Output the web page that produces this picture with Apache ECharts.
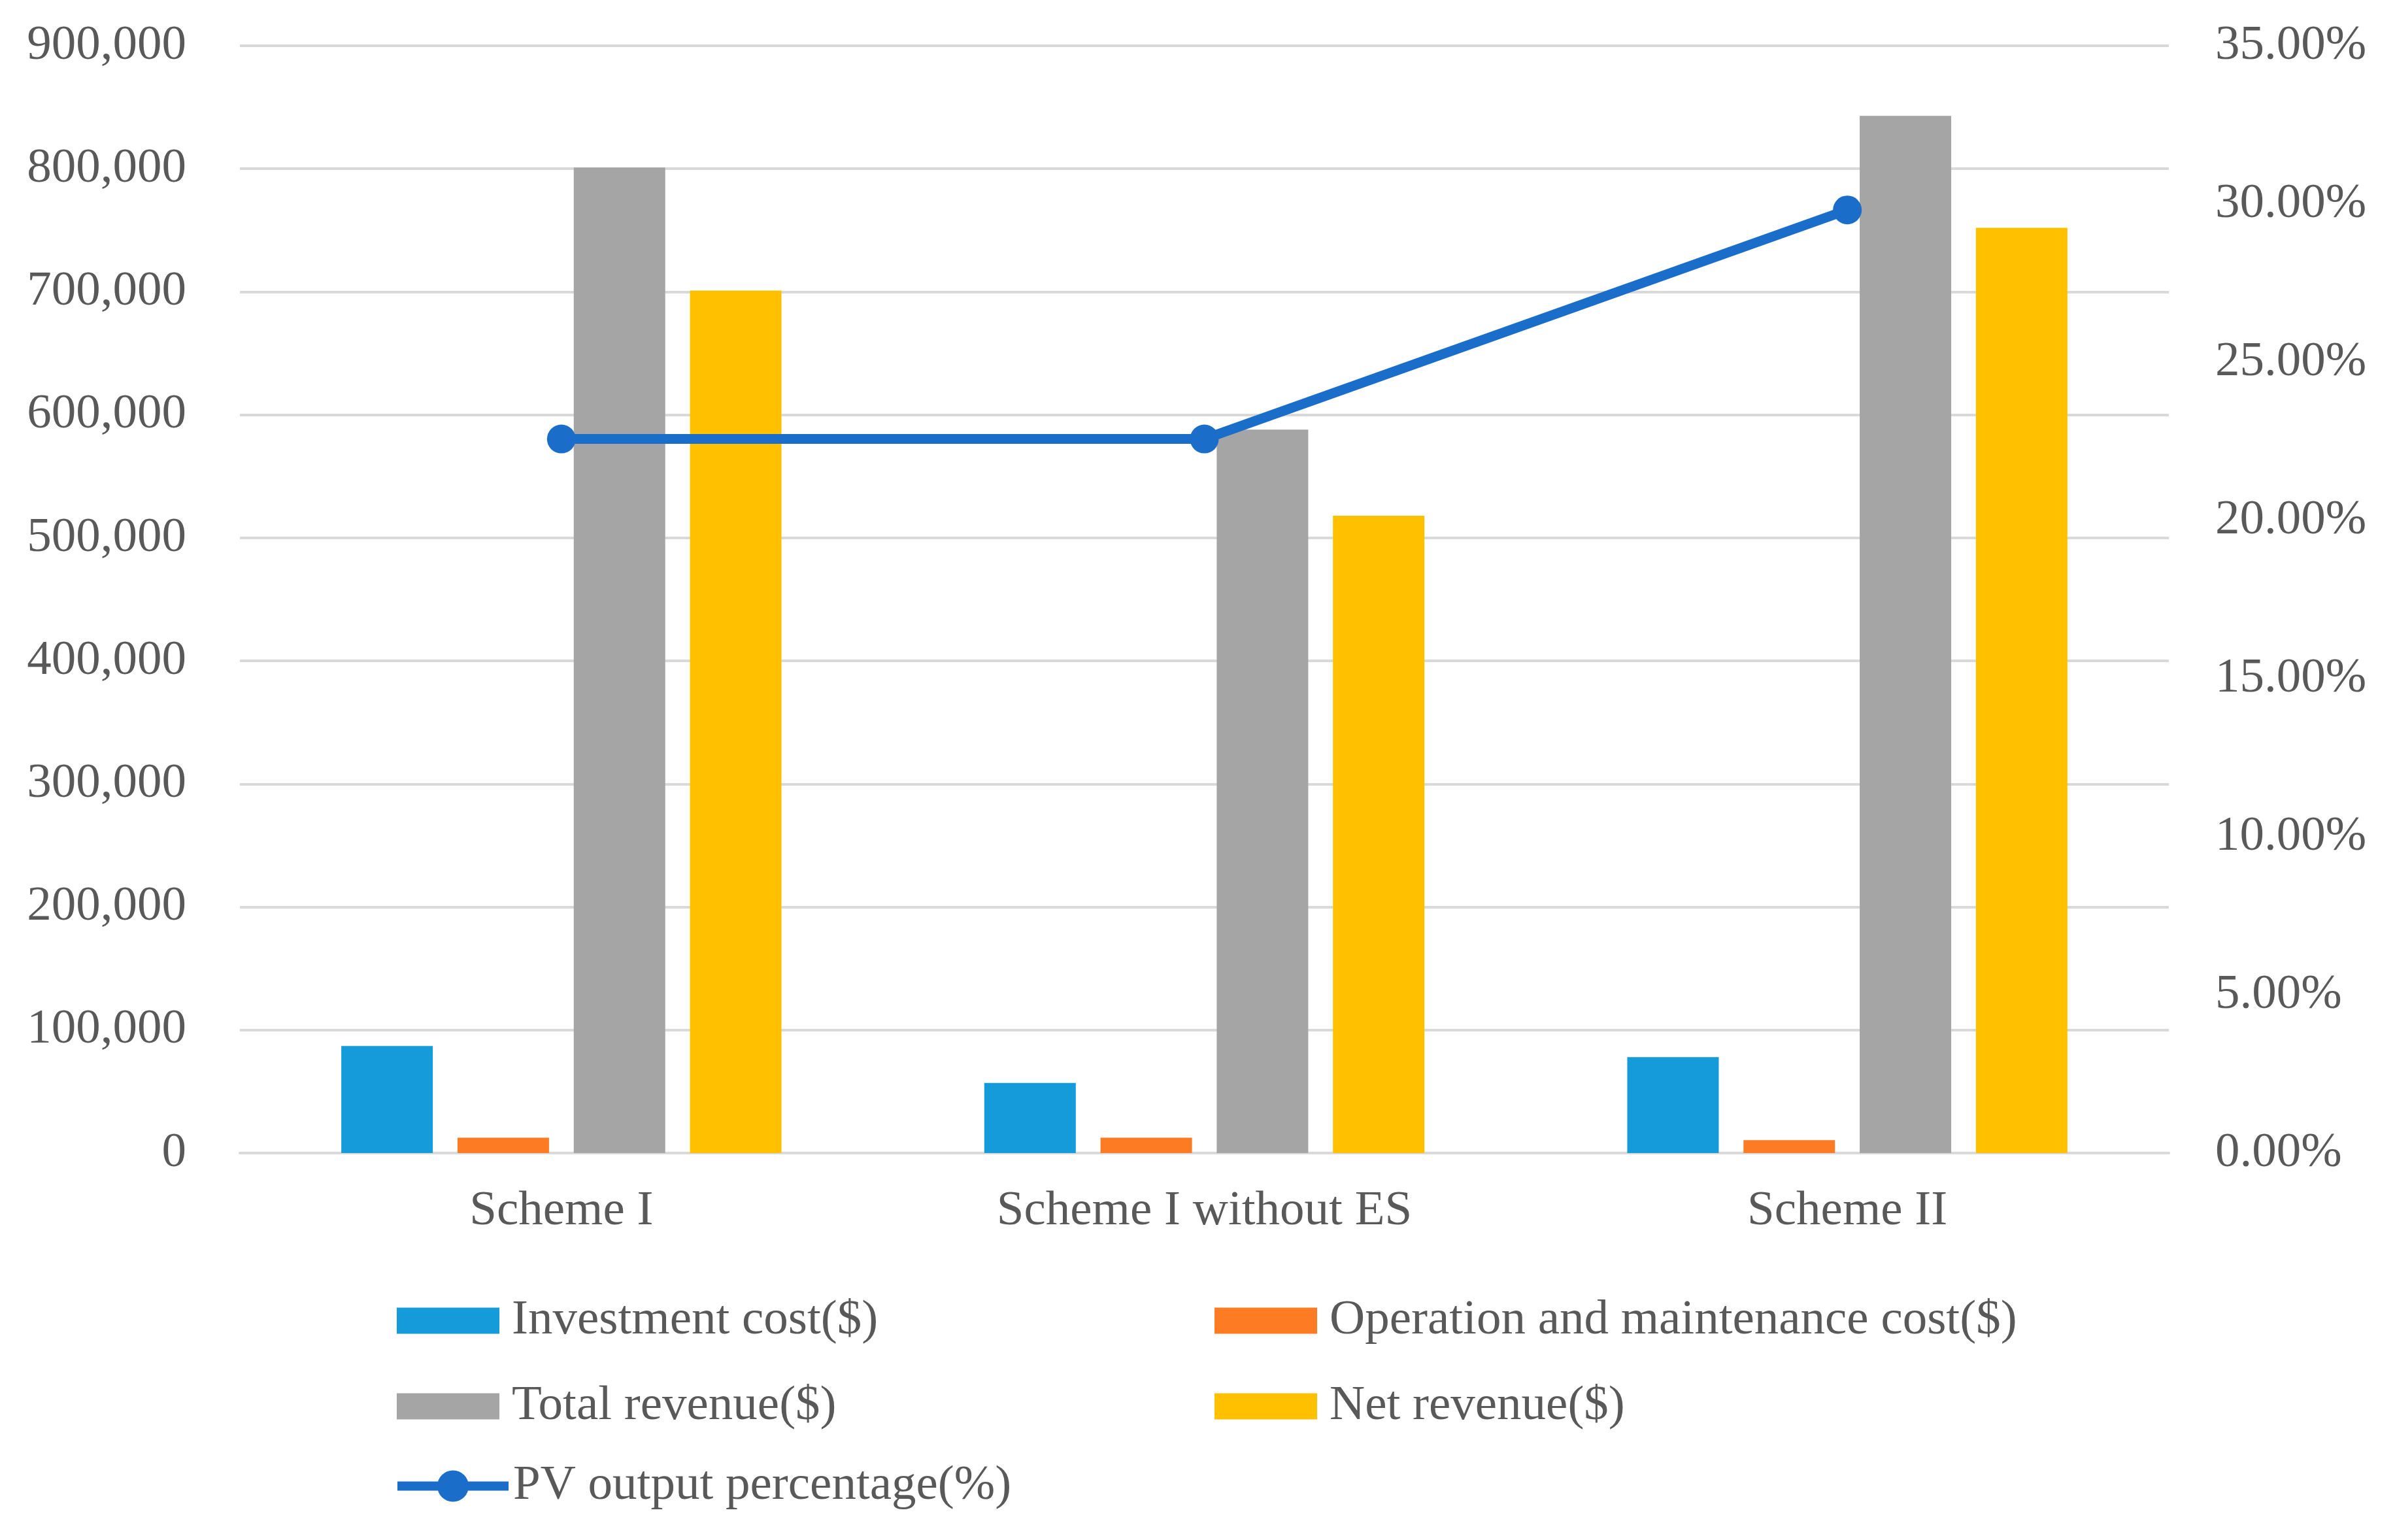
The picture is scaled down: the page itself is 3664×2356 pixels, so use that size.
<!DOCTYPE html>
<html>
<head>
<meta charset="utf-8">
<script src="https://cdn.jsdelivr.net/npm/echarts@6/dist/echarts.min.js"></script>
<style>
html,body{margin:0;padding:0;background:#fff;}
#chart{width:3664px;height:2356px;}
</style>
</head>
<body>
<div id="chart"></div>
<script>
const categories = ['Scheme I', 'Scheme I without ES', 'Scheme II'];
const investmentCost = [87000, 57000, 78000];
const omCost = [12500, 12500, 10500];
const totalRevenue = [801000, 588000, 843000];
const netRevenue = [701000, 518000, 752000];
const pvOutputPct = [22.57, 22.57, 29.81];
const leftTicks = { min: 0, max: 900000, interval: 100000 };
const rightTicks = { min: 0, max: 35, interval: 5 };

const FONT = 'Liberation Serif';
const TXT = '#595959';
const FS = 75;

const chart = echarts.init(document.getElementById('chart'), null, { renderer: 'canvas' });

function legendAt(name, left, top, w, h, extra) {
  return Object.assign({
    data: [name],
    left: left, top: top,
    itemWidth: w, itemHeight: h,
    itemGap: 0,
    icon: 'rect',
    textStyle: { fontFamily: FONT, fontSize: FS, color: TXT, padding: [0, 0, 0, 14] },
    selectedMode: false
  }, extra || {});
}

const option = {
  backgroundColor: '#ffffff',
  animation: false,
  textStyle: { fontFamily: FONT },
  grid: { left: 367, right: 346, top: 70, bottom: 592, containLabel: false },
  legend: [
    legendAt('Investment cost($)', 602, 1978, 157, 40),
    legendAt('Operation and maintenance cost($)', 1853, 1978, 157, 40),
    legendAt('Total revenue($)', 602, 2109, 157, 40),
    legendAt('Net revenue($)', 1853, 2109, 157, 40),
    legendAt('PV output percentage(%)', 596, 2231, 170, 60,
      { icon: null, lineStyle: { width: 14 }, textStyle: { fontFamily: FONT, fontSize: FS, color: TXT, padding: [0, 0, 0, 2] } })
  ],
  xAxis: {
    type: 'category',
    data: categories,
    axisLine: { show: true, lineStyle: { color: '#D9D9D9', width: 4 } },
    axisTick: { show: false },
    axisLabel: { fontFamily: FONT, fontSize: FS, color: TXT, margin: 52 }
  },
  yAxis: [
    {
      type: 'value',
      min: leftTicks.min, max: leftTicks.max, interval: leftTicks.interval,
      axisLine: { show: false },
      axisTick: { show: false },
      splitLine: { show: true, lineStyle: { color: '#D9D9D9', width: 4 } },
      axisLabel: {
        fontFamily: FONT, fontSize: FS, color: TXT, margin: 82,
        formatter: v => v.toLocaleString('en-US')
      }
    },
    {
      type: 'value',
      min: rightTicks.min, max: rightTicks.max, interval: rightTicks.interval,
      position: 'right',
      axisLine: { show: false },
      axisTick: { show: false },
      splitLine: { show: false },
      axisLabel: {
        fontFamily: FONT, fontSize: FS, color: TXT, margin: 71,
        formatter: v => v.toFixed(2) + '%'
      }
    }
  ],
  series: [
    { name: 'Investment cost($)', type: 'bar', data: investmentCost, barWidth: 140, barGap: '27%',
      itemStyle: { color: '#159BD9' } },
    { name: 'Operation and maintenance cost($)', type: 'bar', data: omCost, barWidth: 140, barGap: '27%',
      itemStyle: { color: '#FD7C23' } },
    { name: 'Total revenue($)', type: 'bar', data: totalRevenue, barWidth: 140, barGap: '27%',
      itemStyle: { color: '#A5A5A5' } },
    { name: 'Net revenue($)', type: 'bar', data: netRevenue, barWidth: 140, barGap: '27%',
      itemStyle: { color: '#FFC000' } },
    { name: 'PV output percentage(%)', type: 'line', yAxisIndex: 1, data: pvOutputPct,
      symbol: 'circle', symbolSize: 44,
      lineStyle: { color: '#1A6DC9', width: 15 },
      itemStyle: { color: '#1A6DC9' } }
  ]
};
chart.setOption(option);
</script>
</body>
</html>
